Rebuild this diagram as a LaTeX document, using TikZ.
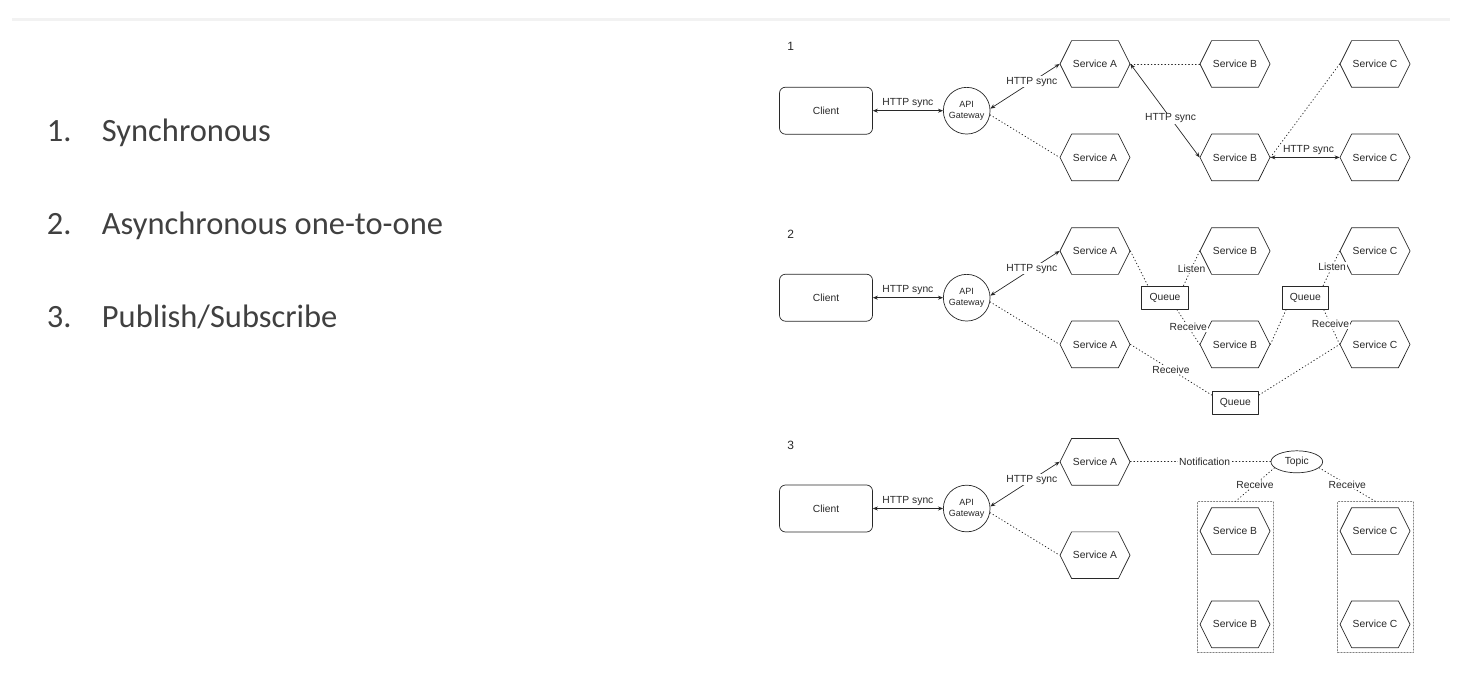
\documentclass[tikz,border=0pt]{standalone}
\usepackage{fontspec}
\setmainfont{Liberation Sans}
\newfontfamily\slidefont{Carlito}
\usetikzlibrary{arrows.meta,shapes.symbols,shapes.geometric}

\definecolor{slidegray}{RGB}{64,64,64}
\definecolor{linegray}{RGB}{40,40,40}
\definecolor{rulegray}{RGB}{242,242,242}

\tikzset{
  service/.style={signal, signal to=east and west, signal pointer angle=127, draw=linegray, line width=0.7pt,
    minimum width=70pt, minimum height=46.7pt, inner sep=0pt, text=linegray, font=\fontsize{10.3}{12}\selectfont},
  clientbox/.style={rectangle, rounded corners=6pt, draw=linegray, line width=0.7pt, minimum width=93pt,
    minimum height=47pt, text=linegray, font=\fontsize{10.3}{12}\selectfont},
  gateway/.style={circle, draw=linegray, line width=0.7pt, minimum size=46.7pt, inner sep=0pt, align=center,
    text=linegray, font=\fontsize{9}{11}\selectfont},
  queuebox/.style={rectangle, draw=linegray, line width=0.7pt, minimum width=46.7pt, minimum height=23.3pt,
    inner sep=0pt, text=linegray, font=\fontsize{10.3}{12}\selectfont},
  topicnode/.style={ellipse, draw=linegray, line width=0.7pt, minimum width=51.7pt, minimum height=22pt,
    inner sep=0pt, text=linegray, font=\fontsize{10.3}{12}\selectfont},
  groupbox/.style={rectangle, draw=gray, dash pattern=on 1.5pt off 1.5pt, line width=0.6pt,
    minimum width=75.6pt, minimum height=151pt},
  sync/.style={<->, line width=0.7pt, draw=linegray},
  async/.style={line width=0.8pt, draw=linegray, dash pattern=on 0.8pt off 2.6pt},
  onlabel/.style={fill=white, inner sep=1pt, text=linegray, font=\fontsize{10.3}{12}\selectfont},
  uplabel/.style={above, inner sep=2.5pt, text=linegray, font=\fontsize{10.3}{12}\selectfont},
  caption/.style={inner sep=0pt, text=linegray, font=\fontsize{12}{14}\selectfont},
  listitem/.style={anchor=base west, inner sep=0pt, text=slidegray, font=\slidefont\fontsize{32.5}{39}\selectfont}
}

\begin{document}
\begin{tikzpicture}[x=1pt, y=-1pt, line cap=round, line join=round, >={Stealth[length=5pt,width=4pt]}]
\useasboundingbox (0,0) rectangle (1467,682);

% slide rule
\fill[rulegray] (12,18.5) rectangle (1450,21.5);

% list
\node[listitem] (num1) at (46.7,141.7) {1.};
\node[listitem] (item1) at (101.7,141.7) {Synchronous};
\node[listitem] (num2) at (46.7,234.7) {2.};
\node[listitem] (item2) at (101.7,234.7) {Asynchronous one-to-one};
\node[listitem] (num3) at (46.7,327.7) {3.};
\node[listitem] (item3) at (101.7,327.7) {Publish/Subscribe};

% 1 synchronous
\node[caption] (cap1) at (790.7,46.7) {1};
\node[clientbox] (client1) at (826,110.7) {Client};
\node[gateway] (gw1) at (966.7,110.7) {API\\Gateway};
\node[service] (a1t) at (1095,64) {Service A};
\node[service] (a1b) at (1095,157.4) {Service A};
\node[service] (b1t) at (1235,64) {Service B};
\node[service] (b1b) at (1235,157.4) {Service B};
\node[service] (c1t) at (1375,64) {Service C};
\node[service] (c1b) at (1375,157.4) {Service C};

\draw[sync] (client1) -- (gw1) node[uplabel, midway] {HTTP sync};
\draw[sync] (gw1.5) -- (a1t.west) node[onlabel, pos=0.6] {HTTP sync};
\draw[async] (gw1.350) -- (a1b.west);
\draw[async] (b1t.west) -- (a1t.east);
\draw[sync] (a1t.east) -- (b1b.west) node[onlabel, pos=0.58] {HTTP sync};
\draw[async] (c1t.west) -- (b1b.east);
\draw[sync] (b1b.east) -- (c1b.west) node[uplabel, pos=0.55] {HTTP sync};

% 2 asynchronous one-to-one
\node[caption] (cap2) at (790.7,234) {2};
\node[clientbox] (client2) at (826,297.7) {Client};
\node[gateway] (gw2) at (966.7,297.7) {API\\Gateway};
\node[service] (a2t) at (1095,251) {Service A};
\node[service] (a2b) at (1095,344.4) {Service A};
\node[service] (b2t) at (1235,251) {Service B};
\node[service] (b2b) at (1235,344.4) {Service B};
\node[service] (c2t) at (1375,251) {Service C};
\node[service] (c2b) at (1375,344.4) {Service C};
\node[queuebox] (q1) at (1165,297.7) {Queue};
\node[queuebox] (q2) at (1305.3,297.7) {Queue};
\node[queuebox] (q3) at (1235.3,402.7) {Queue};

\draw[sync] (client2) -- (gw2) node[uplabel, midway] {HTTP sync};
\draw[sync] (gw2.5) -- (a2t.west) node[onlabel, pos=0.6] {HTTP sync};
\draw[async] (gw2.350) -- (a2b.west);
\draw[async] (a2t.east) -- (q1.145);
\draw[async] (q1.33) -- (b2t.west) node[onlabel, pos=0.5] {Listen};
\draw[async] (q1.315) -- (b2b.west) node[onlabel, pos=0.5] {Receive};
\draw[async] (b2b.east) -- (q2.212);
\draw[async] (q2.34) -- (c2t.west) node[onlabel, pos=0.55] {Listen};
\draw[async] (q2.327) -- (c2b.west) node[onlabel, pos=0.42] {Receive};
\draw[async] (a2b.east) -- (q3.162) node[onlabel, pos=0.5] {Receive};
\draw[async] (q3.18) -- (c2b.west);

% 3 publish/subscribe
\node[caption] (cap3) at (790.7,445) {3};
\node[clientbox] (client3) at (826,508.5) {Client};
\node[gateway] (gw3) at (966.7,508.5) {API\\Gateway};
\node[service] (a3t) at (1095,461.8) {Service A};
\node[service] (a3b) at (1095,555.2) {Service A};
\node[topicnode] (topic) at (1296.8,461.8) {Topic};
\node[groupbox] (grpb) at (1235.5,577.2) {};
\node[groupbox] (grpc) at (1375.5,577.2) {};
\node[service] (b3t) at (1235,531) {Service B};
\node[service] (b3b) at (1235,624.3) {Service B};
\node[service] (c3t) at (1375,531) {Service C};
\node[service] (c3b) at (1375,624.3) {Service C};

\draw[sync] (client3) -- (gw3) node[uplabel, midway] {HTTP sync};
\draw[sync] (gw3.5) -- (a3t.west) node[onlabel, pos=0.6] {HTTP sync};
\draw[async] (gw3.350) -- (a3b.west);
\draw[async] (a3t.east) -- (topic.west) node[onlabel, pos=0.53] {Notification};
\draw[async] (topic.195) -- (grpb.north) node[onlabel, pos=0.5] {Receive};
\draw[async] (topic.345) -- (grpc.north) node[onlabel, pos=0.5] {Receive};

\end{tikzpicture}
\end{document}
